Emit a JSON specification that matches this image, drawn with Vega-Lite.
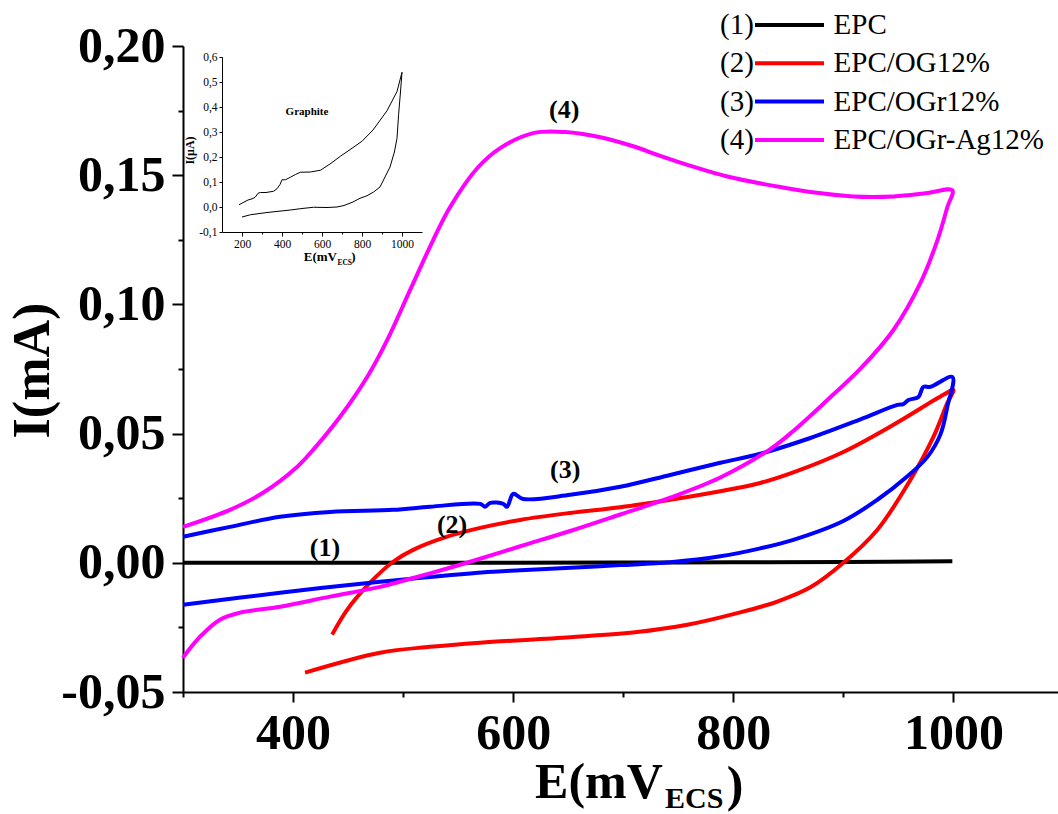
{
  "$schema": "https://vega.github.io/schema/vega-lite/v6.json",
  "width": 875,
  "height": 646,
  "autosize": {"type": "none"},
  "padding": {"left": 183, "top": 46, "right": 0, "bottom": 122},
  "background": "white",
  "config": {
    "view": {"stroke": null},
    "font": "Liberation Serif",
    "axis": {"grid": false, "domainColor": "black", "tickColor": "black", "labelColor": "black", "titleColor": "black"}
  },
  "datasets": {
    "main": [
      {"series": "EPC", "order": 1, "E": 300, "I": 0},
      {"series": "EPC", "order": 2, "E": 400, "I": 0},
      {"series": "EPC", "order": 3, "E": 500, "I": 0},
      {"series": "EPC", "order": 4, "E": 600, "I": 0},
      {"series": "EPC", "order": 5, "E": 700, "I": 0.0001},
      {"series": "EPC", "order": 6, "E": 800, "I": 0.0002},
      {"series": "EPC", "order": 7, "E": 900, "I": 0.0003},
      {"series": "EPC", "order": 8, "E": 999, "I": 0.0006},

      {"series": "EPC/OG12%", "order": 1, "E": 435.5, "I": -0.0278},
      {"series": "EPC/OG12%", "order": 2, "E": 449.1, "I": -0.0182},
      {"series": "EPC/OG12%", "order": 3, "E": 470, "I": -0.0077},
      {"series": "EPC/OG12%", "order": 4, "E": 490.9, "I": 0.0004},
      {"series": "EPC/OG12%", "order": 5, "E": 509.1, "I": 0.005},
      {"series": "EPC/OG12%", "order": 6, "E": 540, "I": 0.0101},
      {"series": "EPC/OG12%", "order": 7, "E": 570, "I": 0.0135},
      {"series": "EPC/OG12%", "order": 8, "E": 606.4, "I": 0.0166},
      {"series": "EPC/OG12%", "order": 9, "E": 651.8, "I": 0.0193},
      {"series": "EPC/OG12%", "order": 10, "E": 697.3, "I": 0.0215},
      {"series": "EPC/OG12%", "order": 11, "E": 742.7, "I": 0.0244},
      {"series": "EPC/OG12%", "order": 12, "E": 788.2, "I": 0.0277},
      {"series": "EPC/OG12%", "order": 13, "E": 824.5, "I": 0.0309},
      {"series": "EPC/OG12%", "order": 14, "E": 854.5, "I": 0.0350},
      {"series": "EPC/OG12%", "order": 15, "E": 900, "I": 0.0429},
      {"series": "EPC/OG12%", "order": 16, "E": 945.5, "I": 0.0534},
      {"series": "EPC/OG12%", "order": 17, "E": 990.9, "I": 0.065},
      {"series": "EPC/OG12%", "order": 18, "E": 1000, "I": 0.0669},
      {"series": "EPC/OG12%", "order": 19, "E": 994.5, "I": 0.0619},
      {"series": "EPC/OG12%", "order": 20, "E": 981.8, "I": 0.0487},
      {"series": "EPC/OG12%", "order": 21, "E": 960.9, "I": 0.0321},
      {"series": "EPC/OG12%", "order": 22, "E": 930.9, "I": 0.0128},
      {"series": "EPC/OG12%", "order": 23, "E": 900, "I": 0.0},
      {"series": "EPC/OG12%", "order": 24, "E": 870, "I": -0.0095},
      {"series": "EPC/OG12%", "order": 25, "E": 840, "I": -0.015},
      {"series": "EPC/OG12%", "order": 26, "E": 803.6, "I": -0.0195},
      {"series": "EPC/OG12%", "order": 27, "E": 758.2, "I": -0.024},
      {"series": "EPC/OG12%", "order": 28, "E": 712.7, "I": -0.0268},
      {"series": "EPC/OG12%", "order": 29, "E": 651.8, "I": -0.0288},
      {"series": "EPC/OG12%", "order": 30, "E": 570, "I": -0.0309},
      {"series": "EPC/OG12%", "order": 31, "E": 524.5, "I": -0.0325},
      {"series": "EPC/OG12%", "order": 32, "E": 479.1, "I": -0.0348},
      {"series": "EPC/OG12%", "order": 33, "E": 410.9, "I": -0.0425},

      {"series": "EPC/OGr12%", "order": 1, "E": 300, "I": 0.0101},
      {"series": "EPC/OGr12%", "order": 2, "E": 342.7, "I": 0.0139},
      {"series": "EPC/OGr12%", "order": 3, "E": 388.2, "I": 0.0178},
      {"series": "EPC/OGr12%", "order": 4, "E": 433.6, "I": 0.0197},
      {"series": "EPC/OGr12%", "order": 5, "E": 490.9, "I": 0.0205},
      {"series": "EPC/OGr12%", "order": 6, "E": 524.5, "I": 0.0217},
      {"series": "EPC/OGr12%", "order": 7, "E": 570, "I": 0.0228},
      {"series": "EPC/OGr12%", "order": 8, "E": 574.5, "I": 0.0217},
      {"series": "EPC/OGr12%", "order": 9, "E": 579.1, "I": 0.0232},
      {"series": "EPC/OGr12%", "order": 10, "E": 590.9, "I": 0.0228},
      {"series": "EPC/OGr12%", "order": 11, "E": 594.5, "I": 0.0217},
      {"series": "EPC/OGr12%", "order": 12, "E": 600, "I": 0.0267},
      {"series": "EPC/OGr12%", "order": 13, "E": 609.1, "I": 0.0247},
      {"series": "EPC/OGr12%", "order": 14, "E": 651.8, "I": 0.0263},
      {"series": "EPC/OGr12%", "order": 15, "E": 697.3, "I": 0.0294},
      {"series": "EPC/OGr12%", "order": 16, "E": 742.7, "I": 0.034},
      {"series": "EPC/OGr12%", "order": 17, "E": 788.2, "I": 0.0387},
      {"series": "EPC/OGr12%", "order": 18, "E": 824.5, "I": 0.0422},
      {"series": "EPC/OGr12%", "order": 19, "E": 870, "I": 0.0483},
      {"series": "EPC/OGr12%", "order": 20, "E": 915.5, "I": 0.0555},
      {"series": "EPC/OGr12%", "order": 21, "E": 949.1, "I": 0.0611},
      {"series": "EPC/OGr12%", "order": 22, "E": 954.5, "I": 0.0614},
      {"series": "EPC/OGr12%", "order": 23, "E": 959.1, "I": 0.063},
      {"series": "EPC/OGr12%", "order": 24, "E": 968.2, "I": 0.0642},
      {"series": "EPC/OGr12%", "order": 25, "E": 972.7, "I": 0.0681},
      {"series": "EPC/OGr12%", "order": 26, "E": 979.1, "I": 0.0681},
      {"series": "EPC/OGr12%", "order": 27, "E": 999.1, "I": 0.0719},
      {"series": "EPC/OGr12%", "order": 28, "E": 994.5, "I": 0.0605},
      {"series": "EPC/OGr12%", "order": 29, "E": 988.2, "I": 0.0497},
      {"series": "EPC/OGr12%", "order": 30, "E": 976.4, "I": 0.041},
      {"series": "EPC/OGr12%", "order": 31, "E": 958.2, "I": 0.0335},
      {"series": "EPC/OGr12%", "order": 32, "E": 930.9, "I": 0.0244},
      {"series": "EPC/OGr12%", "order": 33, "E": 900, "I": 0.0162},
      {"series": "EPC/OGr12%", "order": 34, "E": 854.5, "I": 0.0089},
      {"series": "EPC/OGr12%", "order": 35, "E": 824.5, "I": 0.0056},
      {"series": "EPC/OGr12%", "order": 36, "E": 788.2, "I": 0.0025},
      {"series": "EPC/OGr12%", "order": 37, "E": 742.7, "I": 0.0002},
      {"series": "EPC/OGr12%", "order": 38, "E": 697.3, "I": -0.0009},
      {"series": "EPC/OGr12%", "order": 39, "E": 651.8, "I": -0.0019},
      {"series": "EPC/OGr12%", "order": 40, "E": 606.4, "I": -0.0029},
      {"series": "EPC/OGr12%", "order": 41, "E": 560.9, "I": -0.0041},
      {"series": "EPC/OGr12%", "order": 42, "E": 479.1, "I": -0.0073},
      {"series": "EPC/OGr12%", "order": 43, "E": 388.2, "I": -0.0116},
      {"series": "EPC/OGr12%", "order": 44, "E": 300, "I": -0.0162},

      {"series": "EPC/OGr-Ag12%", "order": 1, "E": 300, "I": -0.0367},
      {"series": "EPC/OGr-Ag12%", "order": 2, "E": 315.5, "I": -0.0286},
      {"series": "EPC/OGr-Ag12%", "order": 3, "E": 333.6, "I": -0.022},
      {"series": "EPC/OGr-Ag12%", "order": 4, "E": 351.8, "I": -0.0193},
      {"series": "EPC/OGr-Ag12%", "order": 5, "E": 388.2, "I": -0.017},
      {"series": "EPC/OGr-Ag12%", "order": 6, "E": 433.6, "I": -0.0131},
      {"series": "EPC/OGr-Ag12%", "order": 7, "E": 479.1, "I": -0.0093},
      {"series": "EPC/OGr-Ag12%", "order": 8, "E": 524.5, "I": -0.0041},
      {"series": "EPC/OGr-Ag12%", "order": 9, "E": 560.9, "I": 0.0004},
      {"series": "EPC/OGr-Ag12%", "order": 10, "E": 606.4, "I": 0.0064},
      {"series": "EPC/OGr-Ag12%", "order": 11, "E": 651.8, "I": 0.0123},
      {"series": "EPC/OGr-Ag12%", "order": 12, "E": 697.3, "I": 0.0187},
      {"series": "EPC/OGr-Ag12%", "order": 13, "E": 742.7, "I": 0.0252},
      {"series": "EPC/OGr-Ag12%", "order": 14, "E": 788.2, "I": 0.033},
      {"series": "EPC/OGr-Ag12%", "order": 15, "E": 833.6, "I": 0.044},
      {"series": "EPC/OGr-Ag12%", "order": 16, "E": 854.5, "I": 0.051},
      {"series": "EPC/OGr-Ag12%", "order": 17, "E": 885.5, "I": 0.063},
      {"series": "EPC/OGr-Ag12%", "order": 18, "E": 915.5, "I": 0.0751},
      {"series": "EPC/OGr-Ag12%", "order": 19, "E": 945.5, "I": 0.0901},
      {"series": "EPC/OGr-Ag12%", "order": 20, "E": 970, "I": 0.1083},
      {"series": "EPC/OGr-Ag12%", "order": 21, "E": 985.5, "I": 0.1249},
      {"series": "EPC/OGr-Ag12%", "order": 22, "E": 994.5, "I": 0.1377},
      {"series": "EPC/OGr-Ag12%", "order": 23, "E": 999, "I": 0.1442},
      {"series": "EPC/OGr-Ag12%", "order": 24, "E": 976.4, "I": 0.1431},
      {"series": "EPC/OGr-Ag12%", "order": 25, "E": 945.5, "I": 0.1418},
      {"series": "EPC/OGr-Ag12%", "order": 26, "E": 909.1, "I": 0.1418},
      {"series": "EPC/OGr-Ag12%", "order": 27, "E": 870, "I": 0.1435},
      {"series": "EPC/OGr-Ag12%", "order": 28, "E": 840, "I": 0.1456},
      {"series": "EPC/OGr-Ag12%", "order": 29, "E": 794.5, "I": 0.1495},
      {"series": "EPC/OGr-Ag12%", "order": 30, "E": 763.6, "I": 0.1533},
      {"series": "EPC/OGr-Ag12%", "order": 31, "E": 733.6, "I": 0.1575},
      {"series": "EPC/OGr-Ag12%", "order": 32, "E": 709.1, "I": 0.1612},
      {"series": "EPC/OGr-Ag12%", "order": 33, "E": 679.1, "I": 0.1647},
      {"series": "EPC/OGr-Ag12%", "order": 34, "E": 647.3, "I": 0.1667},
      {"series": "EPC/OGr-Ag12%", "order": 35, "E": 618.2, "I": 0.1663},
      {"series": "EPC/OGr-Ag12%", "order": 36, "E": 588.2, "I": 0.1605},
      {"series": "EPC/OGr-Ag12%", "order": 37, "E": 567.3, "I": 0.1527},
      {"series": "EPC/OGr-Ag12%", "order": 38, "E": 542.7, "I": 0.1377},
      {"series": "EPC/OGr-Ag12%", "order": 39, "E": 527.3, "I": 0.1249},
      {"series": "EPC/OGr-Ag12%", "order": 40, "E": 506.4, "I": 0.1056},
      {"series": "EPC/OGr-Ag12%", "order": 41, "E": 485.5, "I": 0.0862},
      {"series": "EPC/OGr-Ag12%", "order": 42, "E": 467.3, "I": 0.0719},
      {"series": "EPC/OGr-Ag12%", "order": 43, "E": 442.7, "I": 0.0565},
      {"series": "EPC/OGr-Ag12%", "order": 44, "E": 418.2, "I": 0.0437},
      {"series": "EPC/OGr-Ag12%", "order": 45, "E": 403.6, "I": 0.0371},
      {"series": "EPC/OGr-Ag12%", "order": 46, "E": 372.7, "I": 0.0271},
      {"series": "EPC/OGr-Ag12%", "order": 47, "E": 342.7, "I": 0.0205},
      {"series": "EPC/OGr-Ag12%", "order": 48, "E": 300, "I": 0.0139}
    ],
    "labels": [
      {"label": "(1)", "E": 429, "I": 0.0058},
      {"label": "(2)", "E": 544.5, "I": 0.0147},
      {"label": "(3)", "E": 647.3, "I": 0.036},
      {"label": "(4)", "E": 646.4, "I": 0.1752}
    ],
    "inset": [
      {"order": 1, "E": 185, "I": 0.009},
      {"order": 2, "E": 230, "I": 0.028},
      {"order": 3, "E": 255, "I": 0.034},
      {"order": 4, "E": 267, "I": 0.04},
      {"order": 5, "E": 280, "I": 0.055},
      {"order": 6, "E": 292, "I": 0.058},
      {"order": 7, "E": 320, "I": 0.058},
      {"order": 8, "E": 358, "I": 0.063},
      {"order": 9, "E": 375, "I": 0.073},
      {"order": 10, "E": 390, "I": 0.09},
      {"order": 11, "E": 400, "I": 0.109},
      {"order": 12, "E": 417, "I": 0.109},
      {"order": 13, "E": 442, "I": 0.119},
      {"order": 14, "E": 467, "I": 0.13},
      {"order": 15, "E": 492, "I": 0.139},
      {"order": 16, "E": 542, "I": 0.14},
      {"order": 17, "E": 592, "I": 0.147},
      {"order": 18, "E": 640, "I": 0.172},
      {"order": 19, "E": 692, "I": 0.203},
      {"order": 20, "E": 750, "I": 0.235},
      {"order": 21, "E": 800, "I": 0.263},
      {"order": 22, "E": 855, "I": 0.308},
      {"order": 23, "E": 925, "I": 0.385},
      {"order": 24, "E": 975, "I": 0.462},
      {"order": 25, "E": 1000, "I": 0.539},
      {"order": 26, "E": 992, "I": 0.456},
      {"order": 27, "E": 983, "I": 0.37},
      {"order": 28, "E": 975, "I": 0.275},
      {"order": 29, "E": 962, "I": 0.22},
      {"order": 30, "E": 940, "I": 0.16},
      {"order": 31, "E": 915, "I": 0.12},
      {"order": 32, "E": 890, "I": 0.08},
      {"order": 33, "E": 858, "I": 0.06},
      {"order": 34, "E": 825, "I": 0.045},
      {"order": 35, "E": 790, "I": 0.035},
      {"order": 36, "E": 755, "I": 0.02},
      {"order": 37, "E": 710, "I": 0.006},
      {"order": 38, "E": 675, "I": 0.0},
      {"order": 39, "E": 625, "I": -0.002},
      {"order": 40, "E": 558, "I": -0.001},
      {"order": 41, "E": 500, "I": -0.006},
      {"order": 42, "E": 442, "I": -0.012},
      {"order": 43, "E": 325, "I": -0.022},
      {"order": 44, "E": 242, "I": -0.031},
      {"order": 45, "E": 200, "I": -0.04}
    ]
  },
  "layer": [
    {
      "layer": [
        {
          "data": {"name": "main"},
          "mark": {"type": "line", "strokeWidth": 4, "interpolate": "catmull-rom"},
          "encoding": {
            "x": {
              "field": "E", "type": "quantitative",
              "scale": {"domain": [300, 1095], "nice": false, "zero": false},
              "axis": {
                "title": null,
                "values": [300, 400, 500, 600, 700, 800, 900, 1000],
                "format": "d",
                "labelExpr": "datum.value % 200 === 0 ? datum.label : ''",
                "labelFont": "Liberation Serif",
                "labelFontSize": 50,
                "labelFontWeight": "bold",
                "labelOverlap": false,
                "labelFlush": false,
                "labelBound": false,
                "labelPadding": 6,
                "tickSize": {"condition": {"test": "datum.value % 200 === 0", "value": 10}, "value": 5},
                "tickWidth": 2,
                "domainWidth": 2
              }
            },
            "y": {
              "field": "I", "type": "quantitative",
              "scale": {"domain": [-0.05, 0.2], "nice": false, "zero": false},
              "axis": {
                "title": "I(mA)",
                "titleFont": "Liberation Serif",
                "titleFontSize": 52,
                "titleFontWeight": "bold",
                "titleAngle": -90,
                "titleAlign": "center",
                "titleBaseline": "middle",
                "titleX": -151,
                "titleY": 324,
                "values": [-0.05, -0.025, 0, 0.025, 0.05, 0.075, 0.1, 0.125, 0.15, 0.175, 0.2],
                "labelExpr": "round(datum.value*40) % 2 === 0 ? replace(replace(format(datum.value, '.2f'), '.', ','), '\u2212', '-') : ''",
                "labelFont": "Liberation Serif",
                "labelFontSize": 50,
                "labelFontWeight": "bold",
                "labelOverlap": false,
                "labelFlush": false,
                "labelBound": false,
                "labelPadding": 7,
                "tickSize": {"condition": {"test": "round(datum.value*40) % 2 === 0", "value": 11}, "value": 5},
                "tickWidth": 2,
                "domainWidth": 2
              }
            },
            "color": {
              "field": "series", "type": "nominal",
              "scale": {"domain": ["EPC", "EPC/OG12%", "EPC/OGr12%", "EPC/OGr-Ag12%"], "range": ["#000000", "#ff0000", "#0000ff", "#ff00ff"]},
              "legend": {
                "orient": "none",
                "legendX": 570,
                "legendY": -39,
                "padding": 0,
                "title": null,
                "symbolType": "stroke",
                "symbolSize": 4761,
                "symbolStrokeWidth": 4,
                "clipHeight": 36,
                "rowPadding": 2.3,
                "labelFont": "Liberation Serif",
                "labelFontSize": 29,
                "labelColor": "black",
                "labelOffset": -106,
                "labelLimit": 0,
                "labelExpr": "'(' + (indexof(['EPC','EPC/OG12%','EPC/OGr12%','EPC/OGr-Ag12%'], datum.label) + 1) + ')\u2003\u2003\u2002\u2005' + datum.label"
              }
            },
            "order": {"field": "order", "type": "quantitative"}
          }
        },
        {
          "data": {"name": "labels"},
          "mark": {"type": "text", "font": "Liberation Serif", "fontSize": 26, "fontWeight": "bold", "align": "center", "baseline": "middle", "color": "black"},
          "encoding": {
            "x": {"field": "E", "type": "quantitative"},
            "y": {"field": "I", "type": "quantitative"},
            "text": {"field": "label"}
          }
        },
        {
          "data": {"values": [{}]},
          "mark": {"type": "text", "font": "Liberation Serif", "fontSize": 50, "fontWeight": "bold", "align": "right", "baseline": "alphabetic", "color": "black"},
          "encoding": {
            "x": {"datum": 736, "type": "quantitative"},
            "y": {"datum": -0.0912, "type": "quantitative"},
            "text": {"value": "E(mV"}
          }
        },
        {
          "data": {"values": [{}]},
          "mark": {"type": "text", "font": "Liberation Serif", "fontSize": 30, "fontWeight": "bold", "align": "left", "baseline": "alphabetic", "color": "black"},
          "encoding": {
            "x": {"datum": 738, "type": "quantitative"},
            "y": {"datum": -0.0948, "type": "quantitative"},
            "text": {"value": "ECS"}
          }
        },
        {
          "data": {"values": [{}]},
          "mark": {"type": "text", "font": "Liberation Serif", "fontSize": 50, "fontWeight": "bold", "align": "left", "baseline": "alphabetic", "color": "black"},
          "encoding": {
            "x": {"datum": 794, "type": "quantitative"},
            "y": {"datum": -0.0922, "type": "quantitative"},
            "text": {"value": ")"}
          }
        }
      ]
    },
    {
      "layer": [
        {
          "data": {"name": "inset"},
          "mark": {"type": "line", "strokeWidth": 1, "color": "black"},
          "encoding": {
            "x": {
              "field": "E", "type": "quantitative",
              "scale": {"domain": [100, 1100], "range": [39, 239], "nice": false, "zero": false},
              "axis": {
                "orient": "bottom",
                "offset": -460,
                "title": null,
                "values": [200, 300, 400, 500, 600, 700, 800, 900, 1000],
                "format": "d",
                "labelExpr": "datum.value % 200 === 0 ? datum.label : ''",
                "labelFont": "Liberation Serif",
                "labelFontSize": 11.5,
                "labelOverlap": false,
                "labelFlush": false,
                "labelPadding": 2,
                "tickSize": {"condition": {"test": "datum.value % 200 === 0", "value": 4}, "value": 2},
                "tickWidth": 1,
                "domainWidth": 1
              }
            },
            "y": {
              "field": "I", "type": "quantitative",
              "scale": {"domain": [-0.1, 0.6], "range": [186, 11], "nice": false, "zero": false},
              "axis": {
                "orient": "left",
                "offset": -39,
                "title": "I(\u03bcA)",
                "titleFont": "Liberation Serif",
                "titleFontSize": 12,
                "titleFontWeight": "bold",
                "titleAngle": -90,
                "titleAlign": "center",
                "titleBaseline": "middle",
                "titleX": -33,
                "titleY": 104,
                "values": [-0.1, 0, 0.1, 0.2, 0.3, 0.4, 0.5, 0.6],
                "labelExpr": "replace(replace(format(datum.value, '.1f'), '.', ','), '\u2212', '-')",
                "labelFont": "Liberation Serif",
                "labelFontSize": 11.5,
                "labelOverlap": false,
                "labelFlush": false,
                "labelPadding": 2,
                "tickSize": 3,
                "tickWidth": 1,
                "domainWidth": 1
              }
            },
            "order": {"field": "order", "type": "quantitative"}
          }
        },
        {
          "data": {"values": [{}]},
          "mark": {"type": "text", "font": "Liberation Serif", "fontSize": 11, "fontWeight": "bold", "align": "center", "baseline": "middle", "color": "black"},
          "encoding": {
            "x": {"datum": 525, "type": "quantitative"},
            "y": {"datum": 0.38, "type": "quantitative"},
            "text": {"value": "Graphite"}
          }
        },
        {
          "data": {"values": [{}]},
          "mark": {"type": "text", "font": "Liberation Serif", "fontSize": 13, "fontWeight": "bold", "align": "right", "baseline": "alphabetic", "color": "black"},
          "encoding": {
            "x": {"datum": 675, "type": "quantitative"},
            "y": {"datum": -0.216, "type": "quantitative"},
            "text": {"value": "E(mV"}
          }
        },
        {
          "data": {"values": [{}]},
          "mark": {"type": "text", "font": "Liberation Serif", "fontSize": 7.5, "fontWeight": "bold", "align": "left", "baseline": "alphabetic", "color": "black"},
          "encoding": {
            "x": {"datum": 677, "type": "quantitative"},
            "y": {"datum": -0.231, "type": "quantitative"},
            "text": {"value": "ECS"}
          }
        },
        {
          "data": {"values": [{}]},
          "mark": {"type": "text", "font": "Liberation Serif", "fontSize": 13, "fontWeight": "bold", "align": "left", "baseline": "alphabetic", "color": "black"},
          "encoding": {
            "x": {"datum": 746, "type": "quantitative"},
            "y": {"datum": -0.216, "type": "quantitative"},
            "text": {"value": ")"}
          }
        }
      ]
    }
  ],
  "resolve": {"scale": {"x": "independent", "y": "independent"}, "axis": {"x": "independent", "y": "independent"}}
}
